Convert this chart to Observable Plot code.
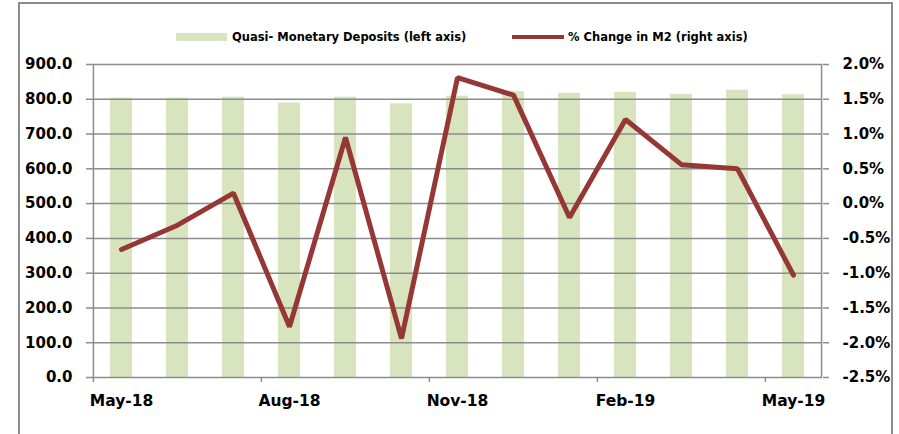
<!DOCTYPE html>
<html>
<head>
<meta charset="utf-8">
<script src="https://cdn.jsdelivr.net/npm/d3@7"></script>
<script src="https://cdn.jsdelivr.net/npm/@observablehq/plot@0.6"></script>
<style>
  html, body { margin: 0; padding: 0; background: #fff; }
  #wrap { position: relative; width: 899px; height: 434px; overflow: hidden; font-family: "DejaVu Sans", sans-serif; font-weight: bold; color: #000; }
  #frame { position: absolute; left: 18px; top: 2px; width: 875px; height: 460px; border: 2px solid #8c8c8c; box-sizing: border-box; }
  #chart { position: absolute; left: 0; top: 0; }
  #legend { position: absolute; left: 0; top: 28px; width: 899px; height: 18px; font-size: 11.5px; }
  .item { position: absolute; top: 0; display: flex; align-items: center; height: 18px; white-space: nowrap; }
  .sw-bar { width: 51px; height: 8px; background: #d7e4bd; margin-right: 5px; }
  .sw-line { width: 52px; height: 4px; background: #953735; margin-right: 4px; }
</style>
</head>
<body>
<div id="wrap">
  <div id="frame"></div>
  <div id="chart"></div>
  <div id="legend"></div>
</div>
<script>
const months = ["May-18","Jun-18","Jul-18","Aug-18","Sep-18","Oct-18","Nov-18","Dec-18","Jan-19","Feb-19","Mar-19","Apr-19","May-19"];
const deposits = [803, 803, 806, 789, 806, 787, 809, 822, 817, 820, 814, 826, 813];
const m2Change = [-0.66, -0.31, 0.15, -1.77, 0.95, -1.94, 1.81, 1.56, -0.20, 1.21, 0.56, 0.50, -1.03];
const xTickLabels = ["May-18","Aug-18","Nov-18","Feb-19","May-19"];
const legendLabels = ["Quasi- Monetary Deposits (left axis)", "% Change in M2 (right axis)"];

const leftMin = 0, leftMax = 900;
const rightMin = -2.5, rightMax = 2.0;
const toLeft = p => (p - rightMin) / (rightMax - rightMin) * (leftMax - leftMin) + leftMin;
const toRight = v => (v - leftMin) / (leftMax - leftMin) * (rightMax - rightMin) + rightMin;

const barData = months.map((m, i) => ({month: m, value: deposits[i]}));
const lineData = months.map((m, i) => ({month: m, pct: m2Change[i], y: toLeft(m2Change[i])}));

const W = 899, H = 434;
const mL = 92, mR = 77, mT = 64, mB = 57;
const step = (W - mL - mR) / months.length;
const grid = "#8c8c8c";
const font = "DejaVu Sans, sans-serif";

const yTicks = d3.range(leftMin, leftMax + 1, 100);

const plot = Plot.plot({
  width: W,
  height: H,
  marginLeft: mL,
  marginRight: mR,
  marginTop: mT,
  marginBottom: mB,
  style: {fontFamily: font, fontWeight: "bold", fontSize: "15px", color: "#000", background: "transparent"},
  x: {type: "band", domain: months, paddingInner: 0.6, paddingOuter: 0.3, align: 0.5},
  y: {domain: [leftMin, leftMax]},
  marks: [
    Plot.barY(barData, {x: "month", y: "value", fill: "#d7e4bd"}),
    Plot.gridY(yTicks, {stroke: grid, strokeOpacity: 1, strokeWidth: 1.5}),
    Plot.line(lineData, {x: "month", y: "y", stroke: "#953735", strokeWidth: 5, strokeLinejoin: "miter", strokeLinecap: "round"}),
    Plot.axisY(yTicks, {anchor: "left", tickSize: 6, tickPadding: 14, stroke: grid, strokeWidth: 1.5, tickFormat: d => d.toFixed(1), label: null, fontSize: 15}),
    Plot.axisY(yTicks, {anchor: "right", tickSize: 6, tickPadding: 14, stroke: grid, strokeWidth: 1.5, tickFormat: d => toRight(d).toFixed(1) + "%", label: null, fontSize: 15}),
    Plot.axisX(xTickLabels, {anchor: "bottom", dx: -step / 2, tickSize: 5, stroke: grid, strokeWidth: 1.5, tickFormat: () => "", label: null}),
    Plot.axisX(xTickLabels, {anchor: "bottom", tickSize: 0, tickPadding: 17, label: null, fontSize: 15.5}),
    Plot.ruleX([months[0]], {dx: -step / 2, stroke: grid, strokeWidth: 1.5}),
    Plot.ruleX([months[months.length - 1]], {dx: step / 2, stroke: grid, strokeWidth: 1.5})
  ]
});
document.getElementById("chart").appendChild(plot);

const legend = document.getElementById("legend");
const it1 = document.createElement("div");
it1.className = "item"; it1.style.left = "176px";
it1.innerHTML = '<span class="sw-bar"></span><span></span>';
it1.lastChild.textContent = legendLabels[0];
const it2 = document.createElement("div");
it2.className = "item"; it2.style.left = "512px";
it2.innerHTML = '<span class="sw-line"></span><span></span>';
it2.lastChild.textContent = legendLabels[1];
legend.appendChild(it1);
legend.appendChild(it2);
</script>
</body>
</html>
